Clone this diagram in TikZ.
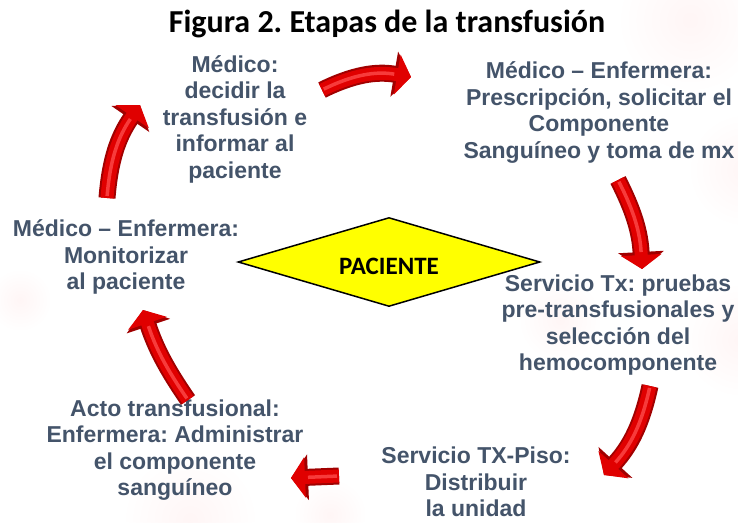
\documentclass[tikz,border=0pt]{standalone}
\usepackage{fontspec}
\setmainfont{Liberation Sans}
\newfontfamily\calib{Carlito}
\usetikzlibrary{arrows.meta,shapes.geometric,calc}
\definecolor{txt}{HTML}{44546A}
\definecolor{ared}{HTML}{E00000}
\definecolor{adark}{HTML}{A00000}
\definecolor{alight}{HTML}{FF5050}
\definecolor{pyel}{HTML}{FFFF00}
\frenchspacing
\begin{document}
\begin{tikzpicture}[x=1pt,y=-1pt,
  stage/.style={align=center, text=txt, font=\fontsize{23}{26.5}\selectfont\bfseries, inner sep=0pt},
  blockarrow/.style={line width=13pt, draw=ared, -{Triangle[width=40pt,length=14pt]},
    preaction={draw=adark, line width=17pt, -{Triangle[width=45pt,length=17pt]}},
    postaction={draw=alight, line width=3.5pt, opacity=.75, -, shorten >=17pt, shorten <=2pt}},
  blob/.style={inner color=red!25, outer color=white, opacity=.14}
]
\useasboundingbox (0,0) rectangle (738,522);
\fill[white] (0,0) rectangle (738,522);
% faint background cells
\shade[blob] (690,20) circle (70pt);
\shade[blob] (745,170) circle (55pt);
\shade[blob] (740,340) circle (55pt);
\shade[blob] (190,520) circle (65pt);
\shade[blob] (20,300) circle (30pt);
\shade[blob] (330,515) circle (35pt);
\shade[blob] (560,320) circle (40pt);

% title
\node[font=\calib\bfseries\fontsize{32}{36}\selectfont, anchor=base] (title) at (387,32) {Figura 2. Etapas de la transfusión};

% central diamond
\node[diamond, draw=black, line width=1.5pt, fill=pyel, minimum width=302pt, minimum height=89pt, inner sep=0pt, aspect=3.4] (pac) at (389,262) {};
\node[font=\calib\bfseries\fontsize{25}{28}\selectfont, inner sep=0pt] (paclbl) at ([yshift=-4pt]pac.center) {PACIENTE};

% stages
\node[stage] (s1) at (235,119) {Médico:\\decidir la\\transfusión e\\informar al\\paciente};
\node[stage] (s2) at (599,112.5) {Médico – Enfermera:\\Prescripción, solicitar el\\Componente\\Sanguíneo y toma de mx};
\node[stage] (s3) at (618,325) {Servicio Tx: pruebas\\pre-transfusionales y\\selección del\\hemocomponente};
\node[stage] (s4) at (476,482) {Servicio TX-Piso:\\Distribuir\\la unidad};
\node[stage] (s5) at (175,450) {Acto transfusional:\\Enfermera: Administrar\\el componente\\sanguíneo};
\node[stage] (s6) at (126,257) {Médico – Enfermera:\\Monitorizar\\al paciente};

% arrow end points
\coordinate (a1) at (322,90);  \coordinate (a2) at (411,77);
\coordinate (b1) at (618,180); \coordinate (b2) at (642,269);
\coordinate (c1) at (650,386); \coordinate (c2) at (604,475);
\coordinate (d1) at (339,476); \coordinate (d2) at (291,478);
\coordinate (e1) at (188,400); \coordinate (e2) at (143,310);
\coordinate (f1) at (107,198); \coordinate (f2) at (140,105);

\draw[blockarrow] (a1) to[bend left=18] (a2);
\draw[blockarrow] (b1) to[bend left=12] (b2);
\draw[blockarrow] (c1) to[bend left=15] (c2);
\draw[blockarrow] (d1) -- (d2);
\draw[blockarrow] (e1) to[bend left=8] (e2);
\draw[blockarrow] (f1) to[bend left=15] (f2);
\end{tikzpicture}
\end{document}
